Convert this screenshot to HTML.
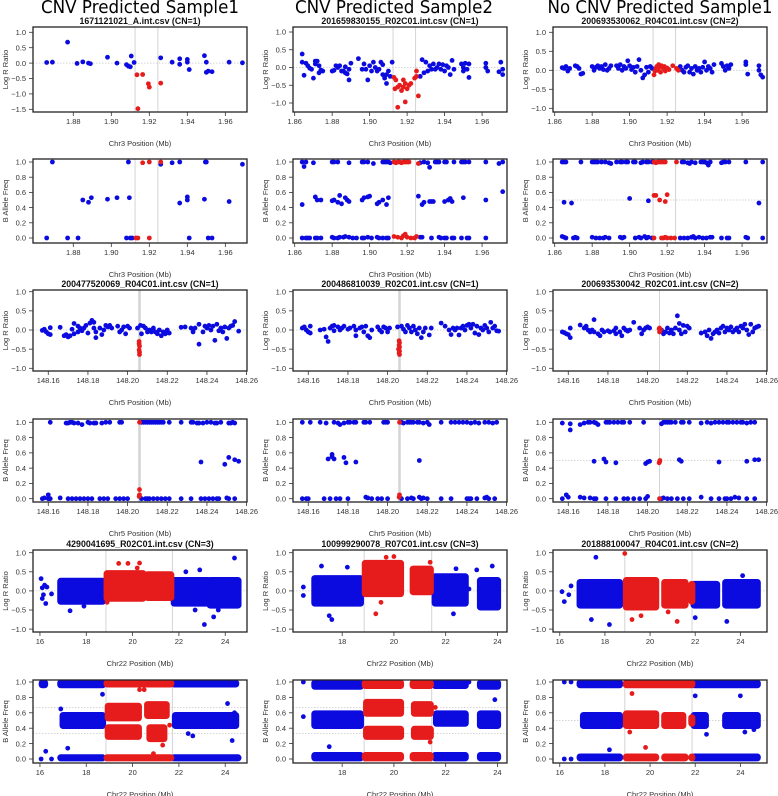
<!DOCTYPE html>
<html><head><meta charset="utf-8">
<style>
html,body{margin:0;padding:0;background:#fff;}
svg{display:block;font-family:"Liberation Sans","DejaVu Sans",sans-serif;}
</style></head>
<body>
<svg id="fig" width="778" height="796" viewBox="0 0 778 796" xmlns="http://www.w3.org/2000/svg"></svg>
<script>
// ---------------- DATA ----------------
// Row 1: Log R Ratio, chr3 (Mb)
const r1c1Blue=[[1.866,0.02],[1.869,0.03],[1.877,0.68],[1.882,-0.01],[1.885,0.04],[1.888,0.0],[1.889,-0.02],[1.898,0.19],[1.903,0.0],[1.908,-0.05],[1.909,-0.1],[1.910,-0.12],[1.9105,0.23],[1.912,0.02],[1.926,0.17],[1.932,0.03],[1.936,0.14],[1.936,-0.04],[1.940,0.12],[1.940,0.03],[1.941,-0.21],[1.949,0.24],[1.950,0.03],[1.950,-0.3],[1.951,-0.26],[1.953,-0.28],[1.962,0.03],[1.969,0.01]];
const r1c1Red=[[1.9135,-0.38],[1.9165,-0.37],[1.9195,-0.67],[1.920,-0.78],[1.926,-0.65],[1.914,-1.48]];
const r1c2Blue=[[1.864,0.38],[1.864,0.15],[1.865,-0.22],[1.866,0.12],[1.867,0.05],[1.868,-0.02],[1.869,-0.05],[1.870,-0.3],[1.871,0.18],[1.871,0.1],[1.872,0.18],[1.873,-0.15],[1.873,0.05],[1.874,-0.07],[1.875,-0.1],[1.880,-0.1],[1.881,-0.08],[1.882,0.05],[1.883,0.0],[1.884,0.05],[1.885,-0.1],[1.886,-0.1],[1.887,-0.15],[1.887,0.02],[1.888,-0.18],[1.889,-0.35],[1.889,-0.05],[1.890,0.12],[1.894,0.25],[1.896,-0.05],[1.897,0.1],[1.898,-0.05],[1.899,-0.35],[1.900,0.05],[1.901,-0.1],[1.902,0.15],[1.903,0.0],[1.904,-0.1],[1.905,-0.05],[1.906,0.15],[1.907,-0.2],[1.907,0.08],[1.908,-0.3],[1.909,-0.45],[1.909,-0.2],[1.910,-0.1],[1.911,-0.25],[1.912,0.15],[1.927,-0.25],[1.928,0.22],[1.929,-0.15],[1.930,0.15],[1.931,-0.1],[1.932,0.05],[1.933,-0.05],[1.934,0.1],[1.935,-0.05],[1.936,0.0],[1.937,0.1],[1.938,-0.05],[1.939,0.08],[1.940,-0.1],[1.941,0.05],[1.942,0.0],[1.943,-0.2],[1.944,0.2],[1.945,-0.05],[1.949,0.1],[1.950,-0.1],[1.950,0.0],[1.951,0.12],[1.952,-0.05],[1.953,0.1],[1.953,-0.28],[1.962,0.0],[1.962,0.12],[1.963,-0.1],[1.969,-0.12],[1.970,0.15],[1.971,-0.2],[1.971,-0.05]];
const r1c2Red=[[1.913,-0.28],[1.9135,-0.6],[1.914,-0.35],[1.915,-0.55],[1.915,-1.12],[1.916,-0.5],[1.917,-0.65],[1.918,-0.35],[1.918,-0.55],[1.919,-0.45],[1.919,-0.97],[1.920,-0.6],[1.921,-0.5],[1.922,-0.45],[1.924,-0.3],[1.925,-0.1],[1.925,-0.25],[1.926,-0.8]];
const r1c3Blue=[[1.864,0.07],[1.865,0.05],[1.866,0.1],[1.867,-0.02],[1.868,0.05],[1.871,0.12],[1.872,0.1],[1.873,0.05],[1.874,-0.1],[1.875,-0.08],[1.880,0.1],[1.881,0.0],[1.882,0.08],[1.883,0.12],[1.884,0.05],[1.885,0.1],[1.886,0.02],[1.887,0.15],[1.888,0.0],[1.889,0.05],[1.890,0.12],[1.893,0.12],[1.894,0.05],[1.895,0.15],[1.896,0.0],[1.897,0.1],[1.898,0.05],[1.899,0.25],[1.900,0.12],[1.901,0.02],[1.902,0.08],[1.903,-0.05],[1.904,0.1],[1.905,0.28],[1.906,0.0],[1.907,-0.2],[1.908,-0.12],[1.909,0.08],[1.910,-0.05],[1.911,0.1],[1.912,0.05],[1.927,0.1],[1.928,0.0],[1.929,-0.05],[1.930,0.08],[1.931,0.12],[1.932,-0.05],[1.933,0.05],[1.934,-0.1],[1.935,0.1],[1.936,0.0],[1.937,0.05],[1.938,-0.05],[1.939,0.08],[1.940,0.22],[1.941,0.0],[1.942,0.1],[1.943,0.05],[1.944,-0.05],[1.945,0.15],[1.949,0.18],[1.950,0.1],[1.951,0.0],[1.952,0.12],[1.953,0.05],[1.954,0.15],[1.962,0.22],[1.962,0.15],[1.963,-0.1],[1.969,0.12],[1.969,0.0],[1.970,-0.12],[1.971,-0.18]];
const r1c3Red=[[1.913,-0.12],[1.9135,-0.02],[1.914,0.05],[1.9145,0.1],[1.915,0.0],[1.9155,0.15],[1.916,0.08],[1.9165,-0.05],[1.917,0.12],[1.918,0.05],[1.9185,0.1],[1.919,-0.02],[1.920,0.06],[1.921,0.02],[1.923,0.12],[1.925,0.05],[1.926,0.0]];
// Row 2: B Allele Freq, chr3
const r2c1Blue=[[1.866,0],[1.869,1.0],[1.877,0],[1.8825,0],[1.885,0.5],[1.888,0.47],[1.8895,0.53],[1.898,0.51],[1.903,0.53],[1.908,0],[1.909,1.0],[1.9095,0.53],[1.910,0],[1.911,0],[1.926,0.97],[1.932,0.99],[1.936,1.0],[1.936,0.46],[1.940,0.54],[1.940,0.5],[1.941,0],[1.949,0.51],[1.9495,1.0],[1.950,1.0],[1.951,0],[1.953,0],[1.962,0.48],[1.969,0.97]];
const r2c1Red=[[1.913,0],[1.914,0],[1.9165,0.99],[1.920,1.0],[1.920,0],[1.926,1.0]];
const r2c2Blue=[[1.864,1.0],[1.865,0.94],[1.866,1.0],[1.870,0.99],[1.880,1.0],[1.881,1.0],[1.883,1.0],[1.889,0.99],[1.896,1.0],[1.897,1.0],[1.899,1.0],[1.902,0.98],[1.907,1.0],[1.908,1.0],[1.909,1.0],[1.910,1.0],[1.911,0.99],[1.927,0.99],[1.929,1.0],[1.931,0.99],[1.932,0.93],[1.935,1.0],[1.936,1.0],[1.937,1.0],[1.940,1.0],[1.941,1.0],[1.945,1.0],[1.949,1.0],[1.950,1.0],[1.951,1.0],[1.953,1.0],[1.962,1.0],[1.969,0.98],[1.971,1.0],
[1.864,0.44],[1.871,0.54],[1.872,0.5],[1.874,0.5],[1.880,0.49],[1.881,0.5],[1.883,0.47],[1.884,0.56],[1.885,0.45],[1.887,0.53],[1.888,0.5],[1.889,0.48],[1.896,0.5],[1.897,0.53],[1.899,0.54],[1.900,0.55],[1.904,0.45],[1.905,0.47],[1.907,0.5],[1.909,0.44],[1.910,0.53],[1.926,0.55],[1.928,0.44],[1.929,0.47],[1.932,0.48],[1.933,0.48],[1.934,0.48],[1.940,0.48],[1.942,0.5],[1.943,0.52],[1.944,0.48],[1.950,0.53],[1.962,0.5],[1.971,0.61],
[1.864,0],[1.866,0],[1.867,0],[1.868,0],[1.871,0],[1.872,0],[1.874,0],[1.880,0.01],[1.881,0],[1.883,0],[1.884,0.01],[1.886,0.01],[1.887,0.02],[1.889,0.01],[1.891,0],[1.893,0],[1.896,0],[1.897,0],[1.899,0.01],[1.901,0],[1.904,0.01],[1.905,0],[1.907,0],[1.909,0],[1.910,0],[1.927,0.01],[1.928,0.01],[1.933,0],[1.937,0.01],[1.938,0],[1.940,0],[1.941,0],[1.944,0],[1.945,0],[1.949,0],[1.952,0],[1.953,0],[1.962,0]];
const r2c2Red=[[1.913,1.0],[1.914,0.99],[1.915,1.0],[1.916,1.0],[1.917,0.99],[1.918,1.0],[1.919,1.0],[1.920,1.0],[1.921,1.0],[1.926,0.98],[1.913,0.02],[1.915,0.01],[1.917,0.0],[1.918,0.03],[1.919,0.05],[1.920,0.01],[1.922,0.0],[1.924,0.0],[1.925,0.02]];
const r2c3Blue=[[1.864,1.0],[1.865,1.0],[1.866,1.0],[1.874,1.0],[1.880,1.0],[1.881,1.0],[1.882,1.0],[1.883,1.0],[1.885,1.0],[1.887,1.0],[1.889,0.99],[1.890,0.98],[1.893,1.0],[1.895,1.0],[1.896,1.0],[1.898,1.0],[1.899,1.0],[1.902,1.0],[1.903,1.0],[1.906,0.99],[1.907,1.0],[1.909,1.0],[1.910,1.0],[1.912,1.0],[1.928,1.0],[1.929,1.0],[1.931,0.99],[1.932,0.98],[1.933,1.0],[1.935,0.99],[1.938,1.0],[1.939,1.0],[1.940,1.0],[1.941,0.99],[1.942,0.96],[1.943,1.0],[1.949,0.99],[1.950,1.0],[1.951,1.0],[1.953,1.0],[1.962,1.0],[1.971,1.0],
[1.865,0.47],[1.869,0.46],[1.900,0.52],[1.910,0.49],[1.969,0.46],
[1.864,0.02],[1.865,0.01],[1.866,0.0],[1.870,0],[1.871,0.01],[1.872,0],[1.880,0.01],[1.882,0],[1.884,0],[1.886,0],[1.887,0.01],[1.889,0],[1.895,0.01],[1.896,0],[1.897,0.01],[1.903,0],[1.905,0.01],[1.906,0],[1.908,0.02],[1.909,0],[1.910,0.01],[1.912,0],[1.927,0],[1.929,0],[1.931,0],[1.933,0.01],[1.934,0.02],[1.935,0],[1.937,0.01],[1.939,0],[1.941,0],[1.943,0.01],[1.944,0.01],[1.949,0],[1.952,0],[1.953,0],[1.962,0.01],[1.963,0],[1.971,0]];
const r2c3Red=[[1.913,1.0],[1.914,0.99],[1.915,1.0],[1.916,1.0],[1.917,1.0],[1.918,1.0],[1.919,1.0],[1.925,1.0],[1.913,0.56],[1.914,0.56],[1.916,0.5],[1.919,0.48],[1.920,0.57],[1.913,0.0],[1.917,0.0],[1.918,0.0],[1.919,0.01],[1.920,0.0],[1.922,0.0],[1.924,0.0]];
// Row 3: Log R Ratio, chr5
const r3c1Blue=[[148.157,-0.01],[148.158,0.02],[148.159,-0.05],[148.160,-0.1],[148.161,0.06],[148.161,-0.12],[148.166,0.07],[148.168,-0.15],[148.169,-0.12],[148.170,-0.18],[148.171,-0.15],[148.172,0.02],[148.173,0.17],[148.173,-0.1],[148.175,0.1],[148.175,-0.05],[148.176,0.05],[148.177,-0.02],[148.178,0.05],[148.179,0.12],[148.180,-0.08],[148.181,0.18],[148.182,0.25],[148.183,0.2],[148.183,0.05],[148.184,-0.2],[148.184,-0.05],[148.186,0.05],[148.187,-0.12],[148.188,0.0],[148.189,0.12],[148.190,0.08],[148.191,0.12],[148.192,0.05],[148.195,0.1],[148.196,-0.05],[148.197,0.0],[148.198,0.08],[148.199,-0.1],[148.200,0.1],[148.201,0.05],[148.205,0.05],[148.2065,0.12],[148.207,-0.1],[148.208,0.1],[148.209,0.05],[148.210,-0.05],[148.211,0.0],[148.212,-0.05],[148.213,0.05],[148.214,-0.05],[148.215,-0.1],[148.216,0.0],[148.217,-0.15],[148.218,-0.05],[148.219,-0.1],[148.220,0.0],[148.221,-0.08],[148.227,0.07],[148.229,0.08],[148.232,0.05],[148.233,-0.05],[148.234,0.05],[148.236,0.15],[148.236,-0.37],[148.238,-0.05],[148.239,0.1],[148.240,0.05],[148.241,0.12],[148.242,0.0],[148.243,0.1],[148.244,-0.27],[148.245,0.15],[148.246,-0.02],[148.247,0.05],[148.248,-0.05],[148.249,0.08],[148.250,-0.22],[148.251,0.05],[148.252,0.1],[148.253,0.12],[148.254,0.22],[148.256,-0.03]];
const r3c1Red=[[148.2058,-0.3],[148.2058,-0.36],[148.206,-0.42],[148.2058,-0.52],[148.206,-0.58],[148.206,-0.64]];
const r3c2Blue=[[148.157,0.05],[148.158,0.08],[148.159,0.0],[148.160,-0.05],[148.161,0.1],[148.161,-0.08],[148.166,0.0],[148.168,0.02],[148.169,-0.18],[148.170,-0.3],[148.171,0.05],[148.172,0.1],[148.173,0.12],[148.173,-0.02],[148.175,0.08],[148.176,0.0],[148.177,0.05],[148.178,0.1],[148.180,0.02],[148.181,0.05],[148.183,0.1],[148.184,-0.15],[148.184,0.0],[148.186,0.05],[148.187,0.08],[148.188,-0.05],[148.189,0.1],[148.190,-0.15],[148.191,-0.2],[148.192,0.0],[148.195,0.08],[148.196,0.0],[148.197,-0.05],[148.198,0.08],[148.199,0.05],[148.200,-0.05],[148.201,0.05],[148.205,0.08],[148.207,0.1],[148.208,0.02],[148.209,-0.05],[148.210,0.12],[148.211,0.05],[148.212,-0.05],[148.213,0.1],[148.214,0.0],[148.215,-0.1],[148.216,0.05],[148.217,-0.2],[148.218,-0.05],[148.219,0.05],[148.221,-0.13],[148.222,0.05],[148.227,0.18],[148.229,0.1],[148.231,0.0],[148.232,-0.12],[148.233,0.05],[148.234,0.0],[148.235,0.05],[148.236,-0.13],[148.237,0.05],[148.238,0.1],[148.239,0.0],[148.240,0.12],[148.241,0.15],[148.242,0.05],[148.243,0.15],[148.244,-0.08],[148.245,0.1],[148.246,-0.12],[148.247,0.05],[148.248,0.0],[148.249,0.12],[148.250,0.05],[148.251,-0.05],[148.252,0.2],[148.253,0.05],[148.254,0.1],[148.255,-0.02],[148.256,-0.03]];
const r3c2Red=[[148.2058,-0.28],[148.206,-0.33],[148.2058,-0.4],[148.206,-0.45],[148.2055,-0.5],[148.206,-0.55],[148.2058,-0.6],[148.206,-0.64]];
const r3c3Blue=[[148.157,-0.05],[148.158,-0.07],[148.159,-0.1],[148.160,-0.12],[148.161,0.05],[148.161,-0.2],[148.166,0.13],[148.168,0.05],[148.169,0.1],[148.170,0.0],[148.171,-0.05],[148.172,0.0],[148.173,0.27],[148.173,-0.05],[148.175,-0.1],[148.176,-0.15],[148.177,0.0],[148.178,-0.05],[148.180,-0.02],[148.181,-0.05],[148.183,-0.02],[148.184,0.05],[148.184,-0.1],[148.186,-0.05],[148.187,-0.15],[148.188,0.05],[148.189,0.0],[148.190,-0.03],[148.191,0.0],[148.193,0.2],[148.196,0.05],[148.197,-0.1],[148.198,0.0],[148.199,0.05],[148.200,0.08],[148.201,0.05],[148.207,0.0],[148.208,-0.1],[148.209,-0.05],[148.210,0.05],[148.211,-0.08],[148.212,0.0],[148.213,-0.1],[148.214,0.05],[148.215,0.37],[148.216,0.17],[148.216,0.0],[148.217,-0.1],[148.218,0.12],[148.219,-0.05],[148.220,0.1],[148.221,0.05],[148.227,-0.08],[148.229,-0.05],[148.230,-0.15],[148.231,0.0],[148.232,-0.22],[148.233,-0.1],[148.234,-0.05],[148.235,0.0],[148.236,-0.08],[148.237,0.05],[148.238,0.1],[148.239,-0.05],[148.240,0.05],[148.241,0.0],[148.242,0.08],[148.243,-0.05],[148.244,0.0],[148.245,0.05],[148.246,-0.05],[148.247,0.1],[148.248,0.05],[148.249,0.15],[148.250,0.0],[148.251,-0.12],[148.252,0.15],[148.253,-0.05],[148.254,0.05],[148.255,0.08],[148.256,0.1]];
const r3c3Red=[[148.206,0.05],[148.206,-0.05],[148.2065,0.0],[148.2058,0.03]];
// Row 4: B Allele Freq, chr5
const r4c1Blue=[[148.161,1.0],[148.169,0.99],[148.170,0.99],[148.171,1.0],[148.172,1.0],[148.173,0.99],[148.175,0.99],[148.177,0.97],[148.180,1.0],[148.181,0.99],[148.183,0.99],[148.184,0.99],[148.187,0.99],[148.189,1.0],[148.191,1.0],[148.196,1.0],[148.197,1.0],[148.207,1.0],[148.208,1.0],[148.209,1.0],[148.210,1.0],[148.211,1.0],[148.212,1.0],[148.213,1.0],[148.214,1.0],[148.215,1.0],[148.216,1.0],[148.217,1.0],[148.218,1.0],[148.221,1.0],[148.227,1.0],[148.232,1.0],[148.233,1.0],[148.235,0.99],[148.236,0.99],[148.238,0.99],[148.240,1.0],[148.242,1.0],[148.244,0.99],[148.245,0.99],[148.247,1.0],[148.251,0.99],[148.252,0.99],[148.253,1.0],[148.254,0.99],
[148.237,0.48],[148.249,0.45],[148.251,0.54],[148.254,0.51],[148.256,0.49],
[148.157,0.0],[148.158,0.01],[148.160,0.0],[148.160,0.05],[148.161,0.0],[148.166,0.01],[148.170,0.0],[148.172,0.0],[148.174,0.0],[148.176,0.0],[148.178,0.0],[148.180,0.0],[148.182,0.0],[148.186,0.0],[148.188,0.0],[148.190,0.0],[148.194,0.0],[148.196,0.0],[148.198,0.0],[148.200,0.0],[148.207,0.0],[148.209,0.0],[148.210,0.0],[148.211,0.0],[148.213,0.0],[148.215,0.0],[148.217,0.0],[148.219,0.0],[148.221,0.0],[148.227,0.0],[148.232,0.0],[148.237,0.0],[148.239,0.0],[148.241,0.0],[148.243,0.0],[148.245,0.0],[148.246,0.0],[148.250,0.01],[148.251,0.0],[148.254,0.0]];
const r4c1Red=[[148.206,1.0],[148.206,0.12],[148.206,0.05],[148.2058,0.03]];
const r4c2Blue=[[148.157,1.0],[148.161,1.0],[148.166,1.0],[148.169,0.99],[148.173,1.0],[148.175,0.99],[148.176,0.97],[148.178,0.99],[148.180,1.0],[148.181,1.0],[148.183,1.0],[148.184,1.0],[148.188,1.0],[148.189,1.0],[148.191,1.0],[148.198,1.0],[148.199,1.0],[148.200,1.0],[148.207,1.0],[148.208,0.99],[148.210,1.0],[148.211,1.0],[148.212,1.0],[148.213,1.0],[148.215,1.0],[148.216,1.0],[148.218,0.99],[148.220,1.0],[148.221,0.97],[148.227,1.0],[148.232,1.0],[148.234,1.0],[148.236,1.0],[148.238,1.0],[148.240,1.0],[148.242,0.99],[148.244,1.0],[148.246,0.99],[148.249,1.0],[148.251,1.0],[148.253,0.99],[148.255,1.0],
[148.170,0.52],[148.172,0.58],[148.172,0.55],[148.173,0.52],[148.178,0.54],[148.179,0.47],[148.184,0.48],[148.216,0.5],
[148.157,0],[148.159,0],[148.160,0],[148.168,0],[148.171,0],[148.174,0],[148.176,0],[148.180,0],[148.189,0.02],[148.190,0.01],[148.192,0],[148.195,0],[148.197,0],[148.200,0],[148.207,0],[148.210,0],[148.212,0.01],[148.213,0],[148.216,0.02],[148.217,0],[148.218,0.01],[148.220,0],[148.227,0],[148.232,0],[148.240,0],[148.241,0],[148.242,0],[148.245,0],[148.249,0.01],[148.250,0.02],[148.251,0],[148.254,0]];
const r4c2Red=[[148.206,1.0],[148.206,0.05],[148.2058,0.02]];
const r4c3Blue=[[148.157,0.99],[148.161,0.9],[148.161,0.98],[148.166,0.97],[148.168,0.99],[148.170,1.0],[148.171,1.0],[148.173,1.0],[148.174,0.99],[148.175,0.97],[148.179,1.0],[148.180,1.0],[148.181,1.0],[148.183,1.0],[148.185,1.0],[148.187,1.0],[148.188,1.0],[148.191,1.0],[148.198,1.0],[148.207,0.98],[148.208,1.0],[148.209,1.0],[148.210,1.0],[148.211,1.0],[148.212,1.0],[148.214,1.0],[148.217,1.0],[148.218,1.0],[148.221,1.0],[148.227,0.99],[148.230,1.0],[148.232,0.99],[148.234,1.0],[148.236,1.0],[148.238,1.0],[148.240,1.0],[148.241,1.0],[148.243,1.0],[148.245,1.0],[148.247,1.0],[148.248,1.0],[148.250,0.99],[148.252,1.0],[148.254,1.0],
[148.173,0.49],[148.178,0.52],[148.179,0.48],[148.184,0.47],[148.199,0.46],[148.200,0.48],[148.201,0.49],[148.216,0.51],[148.217,0.49],[148.236,0.48],[148.250,0.49],[148.254,0.51],[148.256,0.51],
[148.157,0.0],[148.159,0.05],[148.160,0.02],[148.166,0.02],[148.168,0.01],[148.171,0.01],[148.173,0.0],[148.174,0.0],[148.179,0.0],[148.184,0.0],[148.188,0.0],[148.190,0.0],[148.193,0.0],[148.196,0.0],[148.199,0.0],[148.200,0.03],[148.207,0.0],[148.208,0.01],[148.210,0.0],[148.212,0.0],[148.215,0.0],[148.218,0.0],[148.221,0.0],[148.227,0.02],[148.232,0.0],[148.236,0.0],[148.239,0.0],[148.240,0.0],[148.242,0.0],[148.244,0.02],[148.246,0.01],[148.250,0.0],[148.254,0.0]];
const r4c3Red=[[148.206,0.48],[148.2062,0.5],[148.2058,0.47],[148.206,0.0]];
// Rows 5-6: dense chr22 clusters, as bands [startMb, endMb, low, high]
const r5c1BlueBands=[[16.85,18.75,-0.3,0.28],[21.75,23.3,-0.35,0.3],[23.3,24.6,-0.4,0.3]];
const r5c1RedBands=[[18.85,20.5,-0.22,0.48],[20.6,21.7,-0.2,0.45]];
const r5c1Blue=[[16.05,0.32],[16.1,0.08],[16.15,-0.1],[16.2,0.15],[16.25,-0.33],[16.3,0.1],[16.5,-0.08],[16.1,-0.2],[17.3,-0.52],[23.1,-0.88],[24.4,0.86],[22.9,0.55],[22.3,0.5],[23.7,-0.5],[23.5,-0.68],[22.7,-0.5],[17.9,-0.4]];
const r5c1Red=[[19.4,0.72],[19.8,0.72],[20.3,0.73],[18.9,-0.3],[20.2,0.6]];
const r6c1BlueBands=[[16.05,16.25,0.95,1.0],[16.85,18.75,0.95,1.0],[16.95,18.75,0.42,0.58],[16.85,18.75,0.0,0.03],[21.75,24.5,0.96,1.0],[21.8,24.5,0.42,0.58],[21.75,24.6,0.0,0.03]];
const r6c1RedBands=[[18.85,21.7,0.96,1.0],[18.9,20.3,0.52,0.7],[20.6,21.5,0.55,0.72],[18.9,20.3,0.28,0.42],[20.7,21.4,0.25,0.42],[18.85,21.7,0.0,0.03]];
const r6c1Blue=[[16.05,0.0],[16.25,0.1],[16.5,0.0],[17.2,0.14],[18.7,0.84],[22.4,0.33],[22.6,0.3],[24.1,0.72],[24.3,0.24],[24.4,0.6],[16.9,0.65]];
const r6c1Red=[[20.3,0.9],[20.5,0.9],[21.3,0.18],[21.6,0.44],[20.9,0.07]];
const r5c2BlueBands=[[16.9,18.75,-0.35,0.35],[21.55,22.8,-0.35,0.4],[23.3,24.05,-0.45,0.3]];
const r5c2RedBands=[[18.85,20.3,-0.1,0.75],[20.7,21.45,-0.05,0.6]];
const r5c2Blue=[[16.5,0.1],[16.5,-0.12],[17.6,-0.75],[17.5,-0.65],[17.2,0.65],[18.2,0.62],[22.4,0.58],[23.8,0.65],[23.2,0.55],[22.9,0.05],[22.3,-0.6]];
const r5c2Red=[[19.3,-0.6],[20.0,0.9],[19.7,0.88],[21.4,0.75],[19.5,-0.3]];
const r6c2BlueBands=[[16.9,18.75,0.93,1.0],[16.9,18.75,0.42,0.6],[16.9,18.75,0.0,0.06],[21.55,22.8,0.94,1.0],[21.6,22.8,0.45,0.6],[21.55,22.8,0.0,0.06],[23.3,24.05,0.93,1.0],[23.3,24.05,0.42,0.6],[23.3,24.05,0.0,0.06]];
const r6c2RedBands=[[18.85,20.3,0.94,1.0],[18.9,20.3,0.58,0.75],[18.9,20.3,0.28,0.4],[18.85,20.3,0.0,0.06],[20.7,21.45,0.94,1.0],[20.75,21.45,0.58,0.72],[20.75,21.45,0.28,0.4],[20.7,21.45,0.0,0.06]];
const r6c2Blue=[[16.5,1.0],[16.5,0.55],[22.9,1.0],[17.5,0.16],[23.9,0.77]];
const r6c2Red=[[21.6,0.67],[21.4,0.22]];
const r5c3BlueBands=[[16.85,18.7,-0.4,0.25],[21.9,23.0,-0.4,0.2],[23.3,24.8,-0.4,0.25]];
const r5c3RedBands=[[18.9,20.3,-0.45,0.3],[20.6,21.6,-0.4,0.25],[21.8,21.9,-0.3,0.2]];
const r5c3Blue=[[16.1,-0.02],[16.2,-0.28],[16.5,0.13],[16.4,-0.1],[17.6,0.88],[18.2,-0.88],[17.4,-0.75],[23.4,-0.8],[24.1,0.4],[22.0,-0.7]];
const r5c3Red=[[18.88,0.98],[19.2,-0.75],[19.6,-0.65],[21.2,-0.8],[20.8,-0.55]];
const r6c3BlueBands=[[16.85,18.7,0.95,1.0],[17.0,18.7,0.42,0.58],[16.85,18.7,0.0,0.04],[21.9,24.8,0.95,1.0],[21.9,22.5,0.42,0.58],[23.3,24.8,0.42,0.58],[21.9,24.8,0.0,0.04]];
const r6c3RedBands=[[18.9,21.9,0.95,1.0],[18.9,20.3,0.42,0.6],[20.6,21.5,0.42,0.58],[21.8,21.9,0.45,0.55],[18.9,20.3,0.0,0.04],[20.6,21.6,0.0,0.04],[21.8,21.9,0.0,0.04]];
const r6c3Blue=[[16.2,1.0],[16.5,1.0],[16.2,0.0],[16.5,0.0],[22.0,0.82],[22.5,0.32],[24.0,0.82],[24.2,0.35],[24.6,0.38],[18.2,0.12]];
const r6c3Red=[[19.2,0.85],[19.1,0.35],[19.8,0.15]];

// tick label arrays
const chr3TicksC1=[1.88,1.90,1.92,1.94,1.96];
const chr3Ticks=[1.86,1.88,1.90,1.92,1.94,1.96];
const chr5Ticks=[148.16,148.18,148.20,148.22,148.24,148.26];
const chr22Ticks=[16,18,20,22,24];
const chr22TicksC2=[18,20,22,24];
const lrrTicksC1=[1.0,0.5,0.0,-0.5,-1.0,-1.5];
const lrrTicks=[1.0,0.5,0.0,-0.5,-1.0];
const bafTicks=[0.0,0.2,0.4,0.6,0.8,1.0];

// ---------------- DRAWING ----------------
const NS='http://www.w3.org/2000/svg';
const svg=document.getElementById('fig');
const BLUE='#0b0be0', RED='#e61c1c';
function mk(tag,attrs,parent){const e=document.createElementNS(NS,tag);for(const k in attrs)e.setAttribute(k,attrs[k]);(parent||svg).appendChild(e);return e;}

const colX=[33,293,553], W=214;
const rowTop=[27,159,290,419,550,680], rowBot=[112,243,371,502,632,763];

function fmt(v,d){let s=v.toFixed(d);return s.replace('-','\u2212');}

function drawPanel(p){
  const g=mk('g',{});
  
  
  const x0=colX[p.col], y0=rowTop[p.row], y1=rowBot[p.row];
  const sx=v=>x0+(v-p.xlim[0])/(p.xlim[1]-p.xlim[0])*W;
  const sy=v=>p.y1ref+(1-v)*p.k;
  const clip='clip'+p.row+p.col;
  const cp=mk('clipPath',{id:clip},g);
  mk('rect',{x:x0,y:y0,width:W,height:y1-y0},cp);
  const plot=mk('g',{'clip-path':'url(#'+clip+')'},g);
  (p.hlines||[]).forEach(v=>{const l=mk('line',{x1:x0,x2:x0+W,y1:sy(v),y2:sy(v),stroke:'#c8c8c8','stroke-width':0.8,'stroke-dasharray':'1.5,1.5'},plot);
    
    });
  p.vlines.forEach(v=>{const l=mk('line',{x1:sx(v),x2:sx(v),y1:y0,y2:y1,stroke:'#d4d4d4','stroke-width':p.vw||1},plot);
    
    });
  const r=2.4;
  [[p.blueBands||[],BLUE],[p.redBands||[],RED]].forEach(([bands,c])=>bands.forEach(b=>{
    const a=sx(b[0])-r, bb=sx(b[1])+r, top=sy(b[3])-r, bot=sy(b[2])+r;
    const e=mk('rect',{x:a,y:top,width:bb-a,height:bot-top,rx:3.5,fill:c},plot);
    
    
  }));
  [[p.blue,BLUE],[p.red,RED]].forEach(([pts,c])=>pts.forEach(d=>{
    const e=mk('circle',{cx:sx(d[0]),cy:sy(d[1]),r:r,fill:c},plot);
    
    
  }));
  const bx=mk('rect',{x:x0,y:y0,width:W,height:y1-y0,fill:'none',stroke:'#222','stroke-width':1.3},g);
  
  
  p.xticks.forEach(v=>{const X=sx(v);
    mk('line',{x1:X,x2:X,y1:y1,y2:y1+4,stroke:'#333','stroke-width':0.8},g);
    const t=mk('text',{x:X,y:y1+12,'font-size':7.5,fill:'#333','text-anchor':'middle'},g);
    t.textContent=v.toFixed(p.xdec);
    
    });
  p.yticks.forEach(v=>{const Y=sy(v);
    mk('line',{x1:x0-4,x2:x0,y1:Y,y2:Y,stroke:'#333','stroke-width':0.8},g);
    const t=mk('text',{x:x0-7,y:Y+2.7,'font-size':7.5,fill:'#333','text-anchor':'end'},g);
    t.textContent=fmt(v,1);
    
    });
  const xt=mk('text',{x:x0+W/2,y:y1+34,'font-size':7.5,fill:'#333','text-anchor':'middle'},g);
  xt.textContent=p.xlabel;
  
  
  const cy=(y0+y1)/2, cx=x0-25;
  const yt=mk('text',{x:cx,y:cy,'font-size':7.5,fill:'#333','text-anchor':'middle',transform:'rotate(-90 '+cx+' '+cy+')'},g);
  yt.textContent=p.ylabel;
  
  
  if(p.title){const tt=mk('text',{x:x0+W/2,y:y0-3,'font-size':8.8,'font-weight':'bold',fill:'#111','text-anchor':'middle'},g);
    tt.textContent=p.title;
    
    }
}

[['CNV Predicted Sample1',140,198],['CNV Predicted Sample2',394,198],['No CNV Predicted Sample1',660,225]].forEach(h=>{
  const t=mk('text',{x:h[1],y:13,'font-size':17.5,fill:'#000','text-anchor':'middle',textLength:h[2],lengthAdjust:'spacingAndGlyphs','font-family':'DejaVu Sans, sans-serif'});
  t.textContent=h[0];
  
  
});

const chr3Xlim=[[1.8588,1.9714],[1.8591,1.9733],[1.8591,1.9733]];
const chr5Xlim=[148.1523,148.2602];
const chr22Xlim=[[15.70,24.94],[16.10,24.37],[15.70,25.18]];
const titles1=['1671121021_A.int.csv (CN=1)','201659830155_R02C01.int.csv (CN=1)','200693530062_R04C01.int.csv (CN=2)'];
const titles3=['200477520069_R04C01.int.csv (CN=1)','200486810039_R02C01.int.csv (CN=1)','200693530042_R02C01.int.csv (CN=2)'];
const titles5=['4290041695_R02C01.int.csv (CN=3)','100999290078_R07C01.int.csv (CN=3)','201888100047_R04C01.int.csv (CN=2)'];
const r1y=[[32.3,30.8],[32,35.5],[32.3,38]];
const L1=[[r1c1Blue,r1c1Red],[r1c2Blue,r1c2Red],[r1c3Blue,r1c3Red]];
const L2=[[r2c1Blue,r2c1Red],[r2c2Blue,r2c2Red],[r2c3Blue,r2c3Red]];
const L3=[[r3c1Blue,r3c1Red],[r3c2Blue,r3c2Red],[r3c3Blue,r3c3Red]];
const L4=[[r4c1Blue,r4c1Red],[r4c2Blue,r4c2Red],[r4c3Blue,r4c3Red]];
const L5=[[r5c1Blue,r5c1Red,r5c1BlueBands,r5c1RedBands],[r5c2Blue,r5c2Red,r5c2BlueBands,r5c2RedBands],[r5c3Blue,r5c3Red,r5c3BlueBands,r5c3RedBands]];
const L6=[[r6c1Blue,r6c1Red,r6c1BlueBands,r6c1RedBands],[r6c2Blue,r6c2Red,r6c2BlueBands,r6c2RedBands],[r6c3Blue,r6c3Red,r6c3BlueBands,r6c3RedBands]];
const bafH=[[],[],[0.5]];
const bafH22=[[0.333,0.667],[0.333,0.667],[0.5]];
const vl22=[[18.85,21.72],[18.85,21.46],[18.88,21.86]];

for(let c=0;c<3;c++){
  drawPanel({name:'lrr-chr3-panel-'+(c+1),row:0,col:c,xlim:chr3Xlim[c],y1ref:r1y[c][0],k:r1y[c][1],xticks:c?chr3Ticks:chr3TicksC1,xdec:2,yticks:c?lrrTicks:lrrTicksC1,xlabel:'Chr3 Position (Mb)',ylabel:'Log R Ratio',title:titles1[c],hlines:[0],vlines:[1.9125,1.9245],blue:L1[c][0],red:L1[c][1]});
  drawPanel({name:'baf-chr3-panel-'+(c+1),row:1,col:c,xlim:chr3Xlim[c],y1ref:162,k:76,xticks:c?chr3Ticks:chr3TicksC1,xdec:2,yticks:bafTicks,xlabel:'Chr3 Position (Mb)',ylabel:'B Allele Freq',hlines:bafH[c],vlines:[1.9125,1.9245],blue:L2[c][0],red:L2[c][1]});
  drawPanel({name:'lrr-chr5-panel-'+(c+1),row:2,col:c,xlim:chr5Xlim,y1ref:291.7,k:38.3,xticks:chr5Ticks,xdec:2,yticks:lrrTicks,xlabel:'Chr5 Position (Mb)',ylabel:'Log R Ratio',title:titles3[c],hlines:[0],vlines:[148.2060],vw:c==2?1:2.5,blue:L3[c][0],red:L3[c][1]});
  drawPanel({name:'baf-chr5-panel-'+(c+1),row:3,col:c,xlim:chr5Xlim,y1ref:422.3,k:76.4,xticks:chr5Ticks,xdec:2,yticks:bafTicks,xlabel:'Chr5 Position (Mb)',ylabel:'B Allele Freq',hlines:bafH[c],vlines:[148.2060],vw:c==2?1:2.5,blue:L4[c][0],red:L4[c][1]});
  drawPanel({name:'lrr-chr22-panel-'+(c+1),row:4,col:c,xlim:chr22Xlim[c],y1ref:552.7,k:38.2,xticks:c==1?chr22TicksC2:chr22Ticks,xdec:0,yticks:lrrTicks,xlabel:'Chr22 Position (Mb)',ylabel:'Log R Ratio',title:titles5[c],hlines:[0],vlines:vl22[c],blue:L5[c][0],red:L5[c][1],blueBands:L5[c][2],redBands:L5[c][3]});
  drawPanel({name:'baf-chr22-panel-'+(c+1),row:5,col:c,xlim:chr22Xlim[c],y1ref:682,k:77,xticks:c==1?chr22TicksC2:chr22Ticks,xdec:0,yticks:bafTicks,xlabel:'Chr22 Position (Mb)',ylabel:'B Allele Freq',hlines:bafH22[c],vlines:vl22[c],blue:L6[c][0],red:L6[c][1],blueBands:L6[c][2],redBands:L6[c][3]});
}
</script>
</body></html>
